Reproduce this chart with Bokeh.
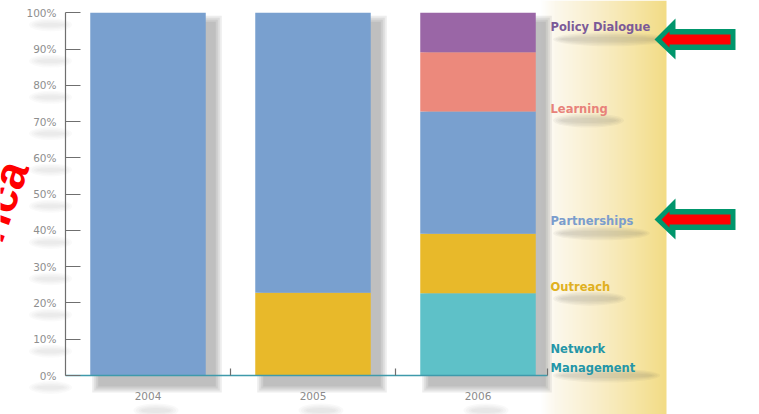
import numpy as np
from bokeh.plotting import figure
from bokeh.models import Range1d, LinearAxis, FixedTicker
from bokeh.core.properties import value
from bokeh.embed import file_html
from bokeh.resources import INLINE

# ---------------- data ----------------
years = ["2004", "2005", "2006"]
network_management = [0.0, 0.0, 22.7]
outreach = [0.0, 22.8, 16.4]
partnerships = [100.0, 77.2, 33.7]
learning = [0.0, 0.0, 16.3]
policy_dialogue = [0.0, 0.0, 10.9]
series_names = ["Network\nManagement", "Outreach", "Partnerships", "Learning", "Policy Dialogue"]
y_ticks = [0, 10, 20, 30, 40, 50, 60, 70, 80, 90, 100]

# ---------------- styles ----------------
bar_colors = ["#5ec1c8", "#e8b92a", "#79a0cf", "#ec897c", "#9a66a6"]
label_colors = ["#2596a8", "#e0b021", "#7b9dcd", "#e8827a", "#7b5a98"]
label_pos = [4.7, 24.5, 42.5, 73.6, 96.0]        # label centres, % units
shadow_w_px = [92, 58, 82, 56, 100]              # widths of the blurred text shadows

W, H = 759, 414
X0, SX = 65, 165.0      # pixel of x=0, pixels per category
Y0, SY = 375, 3.627     # pixel of y=0, pixels per percent


def ax(px):
    return (px - X0) / SX


def ay(py):
    return (Y0 - py) / SY


xpos = [0.5, 1.5, 2.5]
bar_w = 0.70

p = figure(width=W, height=H, output_backend="svg", toolbar_location=None,
           x_range=Range1d(ax(0), ax(W)), y_range=Range1d(ay(H), ay(0)),
           x_axis_type=None, y_axis_type=None,
           min_border_left=0, min_border_right=0, min_border_top=0, min_border_bottom=0,
           background_fill_color="white", border_fill_color="white",
           outline_line_color=None)

# ---- yellow gradient panel on the right ----
N = 140
img = np.empty((1, N), dtype=np.uint32)
view = img.view(dtype=np.uint8).reshape((1, N, 4))
stops_t = [0.0, 0.12, 0.45, 0.75, 1.0]
stops_rgb = [(255, 255, 255), (252, 248, 236), (249, 238, 202), (246, 229, 166), (242, 220, 134)]
t = np.linspace(0, 1, N)
for c in range(3):
    view[0, :, c] = np.interp(t, stops_t, [s[c] for s in stops_rgb]).astype(np.uint8)
view[0, :, 3] = 255
p.image_rgba(image=[img], x=ax(540), y=ay(H), dw=ax(666) - ax(540), dh=ay(0) - ay(H))


def smudge(xc, yc, w_px, h_px, alpha):
    """soft blurred gray blob (layered ellipses), centres in data units"""
    for k in range(4):
        p.ellipse(x=xc, y=yc, width=[(w + 5 * k) / SX for w in w_px],
                  height=(h_px + 3 * k) / SY,
                  fill_color="#505050", fill_alpha=alpha, line_color=None)


# ---- bar shadows ----
totals = [a + b + c + d + e for a, b, c, d, e in
          zip(network_management, outreach, partnerships, learning, policy_dialogue)]
sdx, sdy = 9 / SX, 10 / SY
for e in [7, 5, 3, 1]:
    ex, ey = e / SX, e / SY
    p.quad(left=[x - bar_w / 2 + sdx - ex for x in xpos],
           right=[x + bar_w / 2 + sdx + ex for x in xpos],
           top=[tt - sdy + ey for tt in totals],
           bottom=[-sdy - ey for _ in xpos],
           fill_color="#404040", fill_alpha=0.095, line_color=None)

# ---- text shadows (blurred) ----
smudge([ax(550 + 10) + w / 2 / SX for w in shadow_w_px],
       [lp - 12 / SY - (5 / SY if i == 0 else 0) for i, lp in enumerate(label_pos)],
       shadow_w_px, 5, 0.05)
smudge([x + 8 / SX for x in xpos], [ay(410)] * 3, [30] * 3, 5, 0.035)
smudge([ax(50)] * len(y_ticks), [yt - 12 / SY for yt in y_ticks], [28] * len(y_ticks), 4, 0.03)

# ---- stacked bars ----
data = dict(x=xpos, nm=network_management, out=outreach, par=partnerships,
            lea=learning, pol=policy_dialogue)
p.vbar_stack(["nm", "out", "par", "lea", "pol"], x="x", width=bar_w, source=data,
             color=bar_colors, line_color=None)

# ---- axes ----
yaxis = LinearAxis(fixed_location=0, bounds=(0, 100),
                   ticker=FixedTicker(ticks=y_ticks),
                   major_label_overrides={t_: f"{t_}%" for t_ in y_ticks},
                   axis_line_color="#6f6f6f", axis_line_width=1.2,
                   major_tick_line_color="#6f6f6f", major_tick_line_width=1.2,
                   major_tick_in=15, major_tick_out=0,
                   minor_tick_line_color=None,
                   major_label_standoff=9,
                   major_label_text_baseline="top",
                   major_label_text_font="DejaVu Sans",
                   major_label_text_font_size="10.5px",
                   major_label_text_color="#8e8e8e")
p.add_layout(yaxis, "left")

xaxis = LinearAxis(fixed_location=0, bounds=(0, 2.92),
                   ticker=FixedTicker(ticks=xpos, minor_ticks=[1, 2, 2.92]),
                   major_label_overrides={x: y for x, y in zip(xpos, years)},
                   axis_line_color="#3f9aab", axis_line_width=1.5,
                   major_tick_in=0, major_tick_out=0,
                   minor_tick_in=7, minor_tick_out=0,
                   minor_tick_line_color="#6f6f6f", minor_tick_line_width=1.2,
                   major_label_standoff=16,
                   major_label_text_font="DejaVu Sans",
                   major_label_text_font_size="10.5px",
                   major_label_text_color="#8a8a8a")
p.add_layout(xaxis, "below")

# ---- series labels at the right ----
p.text(x=[ax(550)] * len(series_names), y=label_pos, text=series_names,
       text_color=label_colors, text_font=value("DejaVu Sans"), text_font_style="bold",
       text_font_size="11.5px", text_baseline="middle", text_align="left",
       text_line_height=1.3)

# ---- red/green arrows pointing at two labels ----
outer = [(0, 0), (21, -21), (21, -10.5), (81, -10.5), (81, 10.5), (21, 10.5), (21, 20)]
inner = [(7, 0), (15, -8), (15, -5), (76, -5), (76, 5), (15, 5), (15, 8)]
tips = [(654, 39), (654, 219)]
p.patches(xs=[[ax(tx + a) for a, b in outer] for tx, ty in tips],
          ys=[[ay(ty + b) for a, b in outer] for tx, ty in tips],
          fill_color="#00966c", line_color=None)
p.patches(xs=[[ax(tx + a) for a, b in inner] for tx, ty in tips],
          ys=[[ay(ty + b) for a, b in inner] for tx, ty in tips],
          fill_color="#ff0000", line_color=None)

# ---- red rotated word fragment at the left (cut by the edge, as in the source) ----
p.text(x=[ax(14)], y=[ay(162)], text=["rica"], angle=70, angle_units="deg",
       text_align="right", text_baseline="alphabetic",
       text_font=value("Liberation Sans"), text_font_style="bold",
       text_font_size="46px", text_color="#ff0000")

open("out.html", "w").write(file_html(p, INLINE))
